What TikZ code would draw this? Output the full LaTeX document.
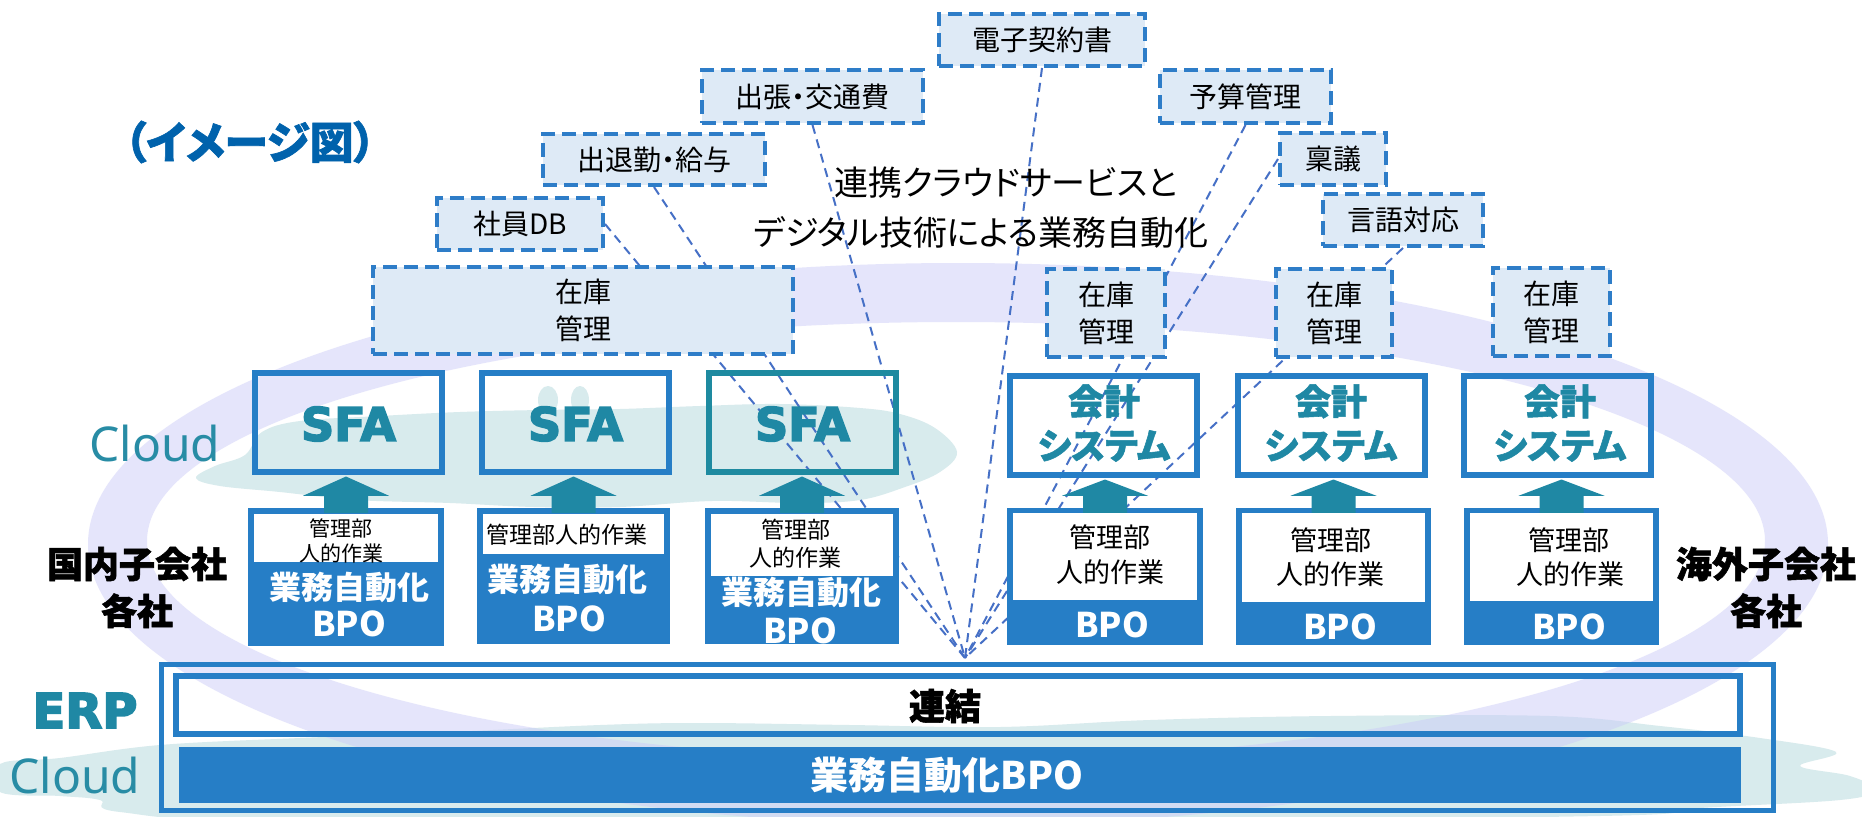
\documentclass[tikz,border=0pt]{standalone}
\usepackage{fontspec}
\setmainfont{Noto Sans CJK JP}[RawFeature={+palt}]
\newfontfamily\latinsans{Noto Sans}
\newfontfamily\heavyfont{DejaVu Sans}[BoldFeatures={FakeBold=3.5}]
\newfontfamily\kaifont{Noto Sans CJK JP}[RawFeature={+palt}, BoldFeatures={FakeBold=1.5}]
\usetikzlibrary{calc}
\definecolor{mainblue}{RGB}{38,126,198}
\definecolor{dashblue}{RGB}{46,125,200}
\definecolor{dashfill}{RGB}{222,234,246}
\definecolor{linkblue}{RGB}{70,112,198}
\definecolor{tealc}{RGB}{31,136,164}
\definecolor{tealborder}{RGB}{30,138,160}
\definecolor{cloudlbl}{RGB}{40,140,165}
\definecolor{cloudc}{RGB}{216,235,237}
\definecolor{ringc}{RGB}{204,204,248}
\definecolor{titleblue}{RGB}{0,98,172}
\pgfdeclarelayer{bg}
\pgfdeclarelayer{links}
\pgfsetlayers{bg,links,main}
\newcommand\blockup[2]{%
  \fill[arrowfill] ($(#1.north)+(-22pt,-5pt)$) -- ($(#1.north)+(-22pt,12pt)$) -- ($(#1.north)+(-43pt,12pt)$)
    -- ($(#1.north |- #2.south)+(0pt,-2pt)$) -- ($(#1.north)+(43pt,12pt)$) -- ($(#1.north)+(22pt,12pt)$)
    -- ($(#1.north)+(22pt,-5pt)$) -- cycle;}
\begin{document}
\begin{tikzpicture}[x=1pt,y=-1pt,
  dbox/.style={draw=dashblue, fill=dashfill, line width=4pt, dash pattern=on 14pt off 7pt, inner sep=0pt, align=center, font=\fontsize{28}{37}\selectfont},
  sysbox/.style={draw=mainblue, line width=6pt, inner sep=0pt, minimum width=187pt, minimum height=99pt},
  bpobox/.style={fill=mainblue, inner sep=0pt, minimum height=137pt},
  conn/.style={draw=linkblue, line width=2pt, dash pattern=on 9pt off 6pt},
  arrowfill/.style={fill=tealc},
  sfatxt/.style={font=\heavyfont\bfseries\fontsize{46}{46}\selectfont, text=tealc},
  kaitxt/.style={font=\kaifont\bfseries\fontsize{36}{44}\selectfont, text=tealc, align=center},
  smalltxt/.style={font=\fontsize{21}{26}\selectfont, text=black, inner sep=0pt},
  midtxt/.style={font=\fontsize{23}{28}\selectfont, text=black, inner sep=0pt},
  bigtxt/.style={font=\fontsize{27}{34}\selectfont, text=black, inner sep=0pt},
  autotxt/.style={font=\bfseries\fontsize{32}{32}\selectfont, text=white, inner sep=0pt},
  bpotxt/.style={font=\bfseries\fontsize{34}{34}\selectfont, text=white, inner sep=0pt},
  sidetxt/.style={font=\kaifont\bfseries\fontsize{36}{47}\selectfont, text=black, align=center},
  cloudtxt/.style={font=\latinsans\fontsize{48}{48}\selectfont, text=cloudlbl, anchor=base, inner sep=0pt}
]
\useasboundingbox (0,0) rectangle (1862,816);

\begin{pgfonlayer}{bg}
  \fill[white] (0,0) rectangle (1862,816);
  % lower cloud
  \fill[cloudc] plot[smooth cycle, tension=0.6] coordinates {(0,764) (60,758) (160,745) (300,738) (450,732) (600,725) (700,723) (850,725) (1000,727) (1150,720) (1330,716) (1550,716) (1660,726) (1760,738) (1836,752) (1800,766) (1850,776) (1875,790) (1840,800) (1700,808) (1600,816) (1000,822) (300,822) (120,812) (100,800) (60,796) (0,792)};
  % upper cloud
  \fill[cloudc] plot[smooth cycle, tension=0.6] coordinates {(196,478) (215,466) (245,455) (262,432) (300,421) (380,416) (460,412) (540,410) (620,409) (700,406) (780,404) (860,408) (900,414) (935,428) (957,452) (940,472) (905,487) (860,500) (800,503) (712,501) (620,507) (534,507) (450,503) (356,500) (280,492) (220,486)};
  \fill[cloudc] (548,400) ellipse [x radius=10pt, y radius=14pt];
  \fill[cloudc] (580,400) ellipse [x radius=9pt, y radius=14pt];
  % ring
  \fill[ringc, opacity=0.5, even odd rule] (958,544) ellipse [x radius=870pt, y radius=281pt] (956,541) ellipse [x radius=809pt, y radius=219pt];
\end{pgfonlayer}

% title
\node[font=\kaifont\bfseries\fontsize{44}{44}\selectfont, text=titleblue] (title) at (250,142) {（イメージ図）};

% service boxes (dashed)
\node[dbox, minimum width=206pt, minimum height=52pt] (d1) at (1042,40) {電子契約書};
\node[dbox, minimum width=221pt, minimum height=53pt] (d2) at (812.5,96.5) {出張・交通費};
\node[dbox, minimum width=171pt, minimum height=53pt] (d3) at (1245.5,96.5) {予算管理};
\node[dbox, minimum width=222pt, minimum height=51pt] (d4) at (654,159.5) {出退勤・給与};
\node[dbox, minimum width=106pt, minimum height=52pt] (d5) at (1333,159) {稟議};
\node[dbox, minimum width=166pt, minimum height=52pt] (d6) at (520,224) {社員DB};
\node[dbox, minimum width=160pt, minimum height=52pt] (d7) at (1403,220) {言語対応};
\node[dbox, minimum width=420pt, minimum height=87pt] (z0) at (583,310.5) {在庫\\管理};
\node[dbox, minimum width=118pt, minimum height=88pt] (z1) at (1106,313) {在庫\\管理};
\node[dbox, minimum width=116pt, minimum height=88pt] (z2) at (1334,313) {在庫\\管理};
\node[dbox, minimum width=117pt, minimum height=88pt] (z3) at (1551.5,312) {在庫\\管理};

% central caption
\node[font=\fontsize{34}{34}\selectfont] (cap1) at (1006,183) {連携クラウドサービスと};
\node[font=\fontsize{34}{34}\selectfont] (cap2) at (981,232) {デジタル技術による業務自動化};

% system boxes
\node[sysbox] (s1) at (348.5,422) {};
\node[sysbox] (s2) at (575.5,422) {};
\node[sysbox, draw=tealborder] (s3) at (802.5,422) {};
\node[sysbox] (k1) at (1103.5,425) {};
\node[sysbox] (k2) at (1331,425) {};
\node[sysbox] (k3) at (1557.5,425) {};
\node[sfatxt] (s1t) at (348.5,424) {SFA};
\node[sfatxt] (s2t) at (575.5,424) {SFA};
\node[sfatxt] (s3t) at (802.5,424) {SFA};
\node[kaitxt] (k1t) at (1104,423) {会計\\システム};
\node[kaitxt] (k2t) at (1331,423) {会計\\システム};
\node[kaitxt] (k3t) at (1560,423) {会計\\システム};

% BPO boxes
\node[bpobox, minimum width=196pt, minimum height=138pt] (b1) at (346,577) {};
\node[bpobox, minimum width=193pt, minimum height=136pt] (b2) at (573.5,576) {};
\node[bpobox, minimum width=194pt, minimum height=136pt] (b3) at (802,576) {};
\node[bpobox, minimum width=196pt] (b4) at (1105,576.5) {};
\node[bpobox, minimum width=195pt] (b5) at (1333.5,576.5) {};
\node[bpobox, minimum width=195pt] (b6) at (1561.5,576.5) {};
\fill[white] ($(b1.north west)+(6pt,-6pt)$) rectangle ($(b1.north east)+(-6pt,-54pt)$);
\fill[white] ($(b2.north west)+(6pt,-6pt)$) rectangle ($(b2.north east)+(-6pt,-46pt)$);
\fill[white] ($(b3.north west)+(6pt,-6pt)$) rectangle ($(b3.north east)+(-6pt,-68pt)$);
\fill[white] ($(b4.north west)+(6pt,-5pt)$) rectangle ($(b4.north east)+(-6pt,-92pt)$);
\fill[white] ($(b5.north west)+(6pt,-5pt)$) rectangle ($(b5.north east)+(-6pt,-94pt)$);
\fill[white] ($(b6.north west)+(6pt,-5pt)$) rectangle ($(b6.north east)+(-6pt,-93pt)$);

\node[smalltxt] (b1a) at (341,528) {管理部};
\node[smalltxt] (b1b) at (341,553) {人的作業};
\node[autotxt] (b1c) at (349,587) {業務自動化};
\node[bpotxt] (b1d) at (349,624) {BPO};
\node[midtxt] (b2a) at (567,535) {管理部人的作業};
\node[autotxt] (b2c) at (567,579) {業務自動化};
\node[bpotxt] (b2d) at (569,619) {BPO};
\node[midtxt] (b3a) at (796,530) {管理部};
\node[midtxt] (b3b) at (795,558) {人的作業};
\node[autotxt] (b3c) at (801,592) {業務自動化};
\node[bpotxt] (b3d) at (800,631) {BPO};
\node[bigtxt] (b4a) at (1110,537) {管理部};
\node[bigtxt] (b4b) at (1110,572) {人的作業};
\node[bpotxt] (b4d) at (1112,625) {BPO};
\node[bigtxt] (b5a) at (1331,540) {管理部};
\node[bigtxt] (b5b) at (1330,574) {人的作業};
\node[bpotxt] (b5d) at (1340,627) {BPO};
\node[bigtxt] (b6a) at (1569,540) {管理部};
\node[bigtxt] (b6b) at (1570,574) {人的作業};
\node[bpotxt] (b6d) at (1569,627) {BPO};

% block arrows
\blockup{b1}{s1}
\blockup{b2}{s2}
\blockup{b3}{s3}
\blockup{b4}{k1}
\blockup{b5}{k2}
\blockup{b6}{k3}

% ERP area
\node[draw=mainblue, line width=5pt, inner sep=0pt, minimum width=1612pt, minimum height=146pt] (erp) at (967.5,737.5) {};
\node[draw=mainblue, line width=6pt, inner sep=0pt, minimum width=1564pt, minimum height=58pt] (renketsu) at (958,705) {};
\node[fill=mainblue, inner sep=0pt, minimum width=1562pt, minimum height=56pt] (bpobar) at (960,775) {};
\node[font=\kaifont\bfseries\fontsize{36}{36}\selectfont, text=black] (rent) at (945,706) {連結};
\node[font=\bfseries\fontsize{38}{38}\selectfont, text=white] (bpobart) at (947,775) {業務自動化BPO};

% side labels
\node[cloudtxt] (cloud1) at (155,461) {Cloud};
\node[cloudtxt] (cloud2) at (75,793) {Cloud};
\node[font=\heavyfont\bfseries\fontsize{48}{48}\selectfont, text=tealc, anchor=base, inner sep=0pt] (erpl) at (85,728) {ERP};
\node[sidetxt] (dom) at (137,587.5) {国内子会社\\各社};
\node[sidetxt] (ovs) at (1766,587.5) {海外子会社\\各社};

% connectors
\coordinate (conv) at (965,658);
\begin{pgfonlayer}{links}
  \draw[conn] (d6.east) -- (conv);
  \draw[conn] (d4.south) -- (conv);
  \draw[conn] (d2.south) -- (conv);
  \draw[conn] (d1.south) -- (conv);
  \draw[conn] (d3.south) -- (conv);
  \draw[conn] (d5.west) -- (conv);
  \draw[conn] (d7.south) -- (conv);
\end{pgfonlayer}
\end{tikzpicture}
\end{document}
